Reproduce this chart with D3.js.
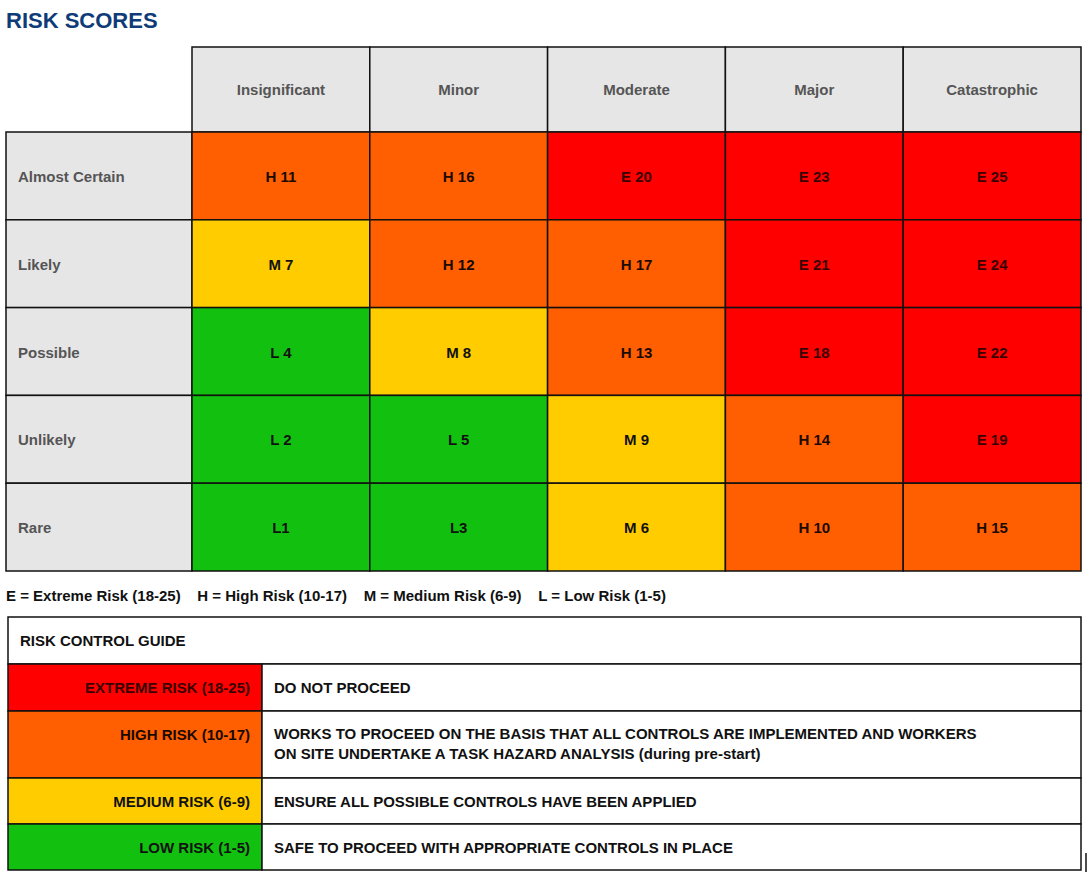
<!DOCTYPE html>
<html><head><meta charset="utf-8">
<script src="https://cdn.jsdelivr.net/npm/d3@7"></script>
<style>body{margin:0;background:#fff}text{font-family:"Liberation Sans",Arial,sans-serif;font-weight:bold}</style>
</head><body><svg id="c" width="1090" height="877"></svg>
<script>
// consequence columns and likelihood rows
const consequences = ["Insignificant", "Minor", "Moderate", "Major", "Catastrophic"];
const likelihoods = ["Almost Certain", "Likely", "Possible", "Unlikely", "Rare"];
// cell labels row by row
const cellLabels = [
  ["H 11", "H 16", "E 20", "E 23", "E 25"],
  ["M 7", "H 12", "H 17", "E 21", "E 24"],
  ["L 4", "M 8", "H 13", "E 18", "E 22"],
  ["L 2", "L 5", "M 9", "H 14", "E 19"],
  ["L1", "L3", "M 6", "H 10", "H 15"]
];
const legendText = "E = Extreme Risk (18-25)    H = High Risk (10-17)    M = Medium Risk (6-9)    L = Low Risk (1-5)";
const guideLevels = ["EXTREME RISK (18-25)", "HIGH RISK (10-17)", "MEDIUM RISK (6-9)", "LOW RISK (1-5)"];
const guideActions = [
  ["DO NOT PROCEED"],
  ["WORKS TO PROCEED ON THE BASIS THAT ALL CONTROLS ARE IMPLEMENTED AND WORKERS", "ON SITE UNDERTAKE A TASK HAZARD ANALYSIS (during pre-start)"],
  ["ENSURE ALL POSSIBLE CONTROLS HAVE BEEN APPLIED"],
  ["SAFE TO PROCEED WITH APPROPRIATE CONTROLS IN PLACE"]
];
const levelColor = {E: "#ff0000", H: "#ff5f00", M: "#ffcc00", L: "#12c10f"};
const levelText = {E: "#3a0000", H: "#1a0a00", M: "#111", L: "#111"};

const svg = d3.select("#c");
svg.append("text").attr("x", 6).attr("y", 28).attr("font-size", 22).attr("fill", "#0f3c78").text("RISK SCORES");

const x = d3.scaleBand().domain(consequences).range([192, 1081]);
const y = d3.scaleBand().domain(likelihoods).range([132, 571]);

// header
const hdr = svg.append("g");
consequences.forEach(c => {
  hdr.append("rect").attr("x", x(c)).attr("y", 47).attr("width", x.bandwidth()).attr("height", 85)
    .attr("fill", "#e6e6e6").attr("stroke", "#111").attr("stroke-width", 1.5);
  hdr.append("text").attr("x", x(c) + x.bandwidth() / 2).attr("y", 95).attr("text-anchor", "middle")
    .attr("font-size", 15).attr("fill", "#555").text(c);
});
likelihoods.forEach(l => {
  hdr.append("rect").attr("x", 6).attr("y", y(l)).attr("width", 186).attr("height", y.bandwidth())
    .attr("fill", "#e6e6e6").attr("stroke", "#111").attr("stroke-width", 1.5);
  hdr.append("text").attr("x", 18).attr("y", y(l) + y.bandwidth() / 2 + 6)
    .attr("font-size", 15).attr("fill", "#555").text(l);
});

const cells = likelihoods.flatMap((l, i) => consequences.map((c, j) => ({l, c, label: cellLabels[i][j]})));
const g = svg.append("g").selectAll("g").data(cells).join("g");
g.append("rect").attr("x", d => x(d.c)).attr("y", d => y(d.l)).attr("width", x.bandwidth()).attr("height", y.bandwidth())
  .attr("fill", d => levelColor[d.label[0]]).attr("stroke", "#111").attr("stroke-width", 1.5);
g.append("text").attr("x", d => x(d.c) + x.bandwidth() / 2).attr("y", d => y(d.l) + y.bandwidth() / 2 + 6)
  .attr("text-anchor", "middle").attr("font-size", 15).attr("fill", d => levelText[d.label[0]]).text(d => d.label);

svg.append("text").attr("x", 6).attr("y", 601).attr("font-size", 15).attr("fill", "#111")
  .attr("xml:space", "preserve").style("white-space", "pre").text(legendText);

// risk control guide
const gy = d3.scaleBand().domain(guideLevels).range([664, 870]).paddingInner(0);
const rowH = [47, 67, 46, 46];
let acc = 664;
const rowY = rowH.map(h => { const v = acc; acc += h; return v; });
svg.append("rect").attr("x", 8).attr("y", 617).attr("width", 1073).attr("height", 47)
  .attr("fill", "#fff").attr("stroke", "#111").attr("stroke-width", 1.5);
svg.append("text").attr("x", 20).attr("y", 646).attr("font-size", 15).attr("fill", "#111").text("RISK CONTROL GUIDE");
guideLevels.forEach((lv, i) => {
  const key = lv[0];
  svg.append("rect").attr("x", 8).attr("y", rowY[i]).attr("width", 254).attr("height", rowH[i])
    .attr("fill", levelColor[key]).attr("stroke", "#111").attr("stroke-width", 1.5);
  svg.append("rect").attr("x", 262).attr("y", rowY[i]).attr("width", 819).attr("height", rowH[i])
    .attr("fill", "#fff").attr("stroke", "#111").attr("stroke-width", 1.5);
  svg.append("text").attr("x", 250).attr("y", rowY[i] + 29).attr("text-anchor", "end").attr("font-size", 15)
    .attr("fill", levelText[key]).text(lv);
  guideActions[i].forEach((t, k) => {
    svg.append("text").attr("x", 274).attr("y", rowY[i] + (guideActions[i].length > 1 ? 28 + k * 20 : 29))
      .attr("font-size", 15).attr("fill", "#111").text(t);
  });
});
svg.append("line").attr("x1", 1086).attr("x2", 1086).attr("y1", 853).attr("y2", 872).attr("stroke", "#111").attr("stroke-width", 1.5);
</script></body></html>
